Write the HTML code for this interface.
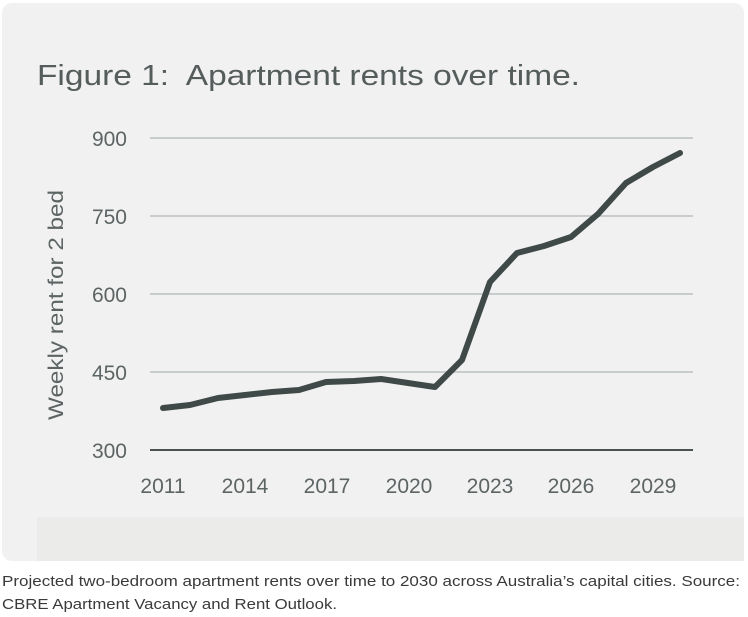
<!DOCTYPE html>
<html><head><meta charset="utf-8"><style>
body{margin:0;width:748px;height:617px;background:#fff;font-family:"Liberation Sans",sans-serif;overflow:hidden}
</style></head><body>
<svg width="748" height="617" style="position:absolute;left:0;top:0">
<rect x="2" y="3" width="742" height="558" rx="10" fill="#f1f1f1"/>
<rect x="37" y="517" width="707" height="44" fill="#ebebea"/>
<text x="37" y="85" font-size="29" fill="#555c5c" textLength="543" lengthAdjust="spacingAndGlyphs">Figure 1:&#160; Apartment rents over time.</text>
<g stroke="#c9cccc" stroke-width="2">
<line x1="150" y1="138" x2="693" y2="138"/>
<line x1="150" y1="216" x2="693" y2="216"/>
<line x1="150" y1="294" x2="693" y2="294"/>
<line x1="150" y1="372" x2="693" y2="372"/>
</g>
<line x1="150" y1="450" x2="693" y2="450" stroke="#4a5352" stroke-width="2"/>
<g font-size="21" fill="#5d6464" text-anchor="end">
<text x="127" y="146">900</text><text x="127" y="224">750</text><text x="127" y="302">600</text><text x="127" y="380">450</text><text x="127" y="458">300</text>
</g>
<g font-size="21" fill="#5d6464" text-anchor="middle">
<text x="163" y="493">2011</text><text x="245" y="493">2014</text><text x="327" y="493">2017</text><text x="409" y="493">2020</text><text x="490" y="493">2023</text><text x="571" y="493">2026</text><text x="653" y="493">2029</text>
</g>
<text transform="translate(63,305) rotate(-90)" font-size="21" fill="#5d6464" text-anchor="middle" textLength="230" lengthAdjust="spacingAndGlyphs">Weekly rent for 2 bed</text>
<polyline fill="none" stroke="#3f4a48" stroke-width="6" stroke-linejoin="round" stroke-linecap="round"
points="163,408 190,405 218,398 245,395 272,392 299,390 326,382 354,381 381,379 408,383 435,387 462,360 490,282 517,253 544,246 571,237 598,214 626,183 653,167 680,153"/>
<text x="2" y="586" font-size="15" fill="#3a3a3a" textLength="738" lengthAdjust="spacingAndGlyphs">Projected two-bedroom apartment rents over time to 2030 across Australia’s capital cities. Source:</text>
<text x="2" y="609" font-size="15" fill="#3a3a3a" textLength="335" lengthAdjust="spacingAndGlyphs">CBRE Apartment Vacancy and Rent Outlook.</text>
</svg>
</body></html>
